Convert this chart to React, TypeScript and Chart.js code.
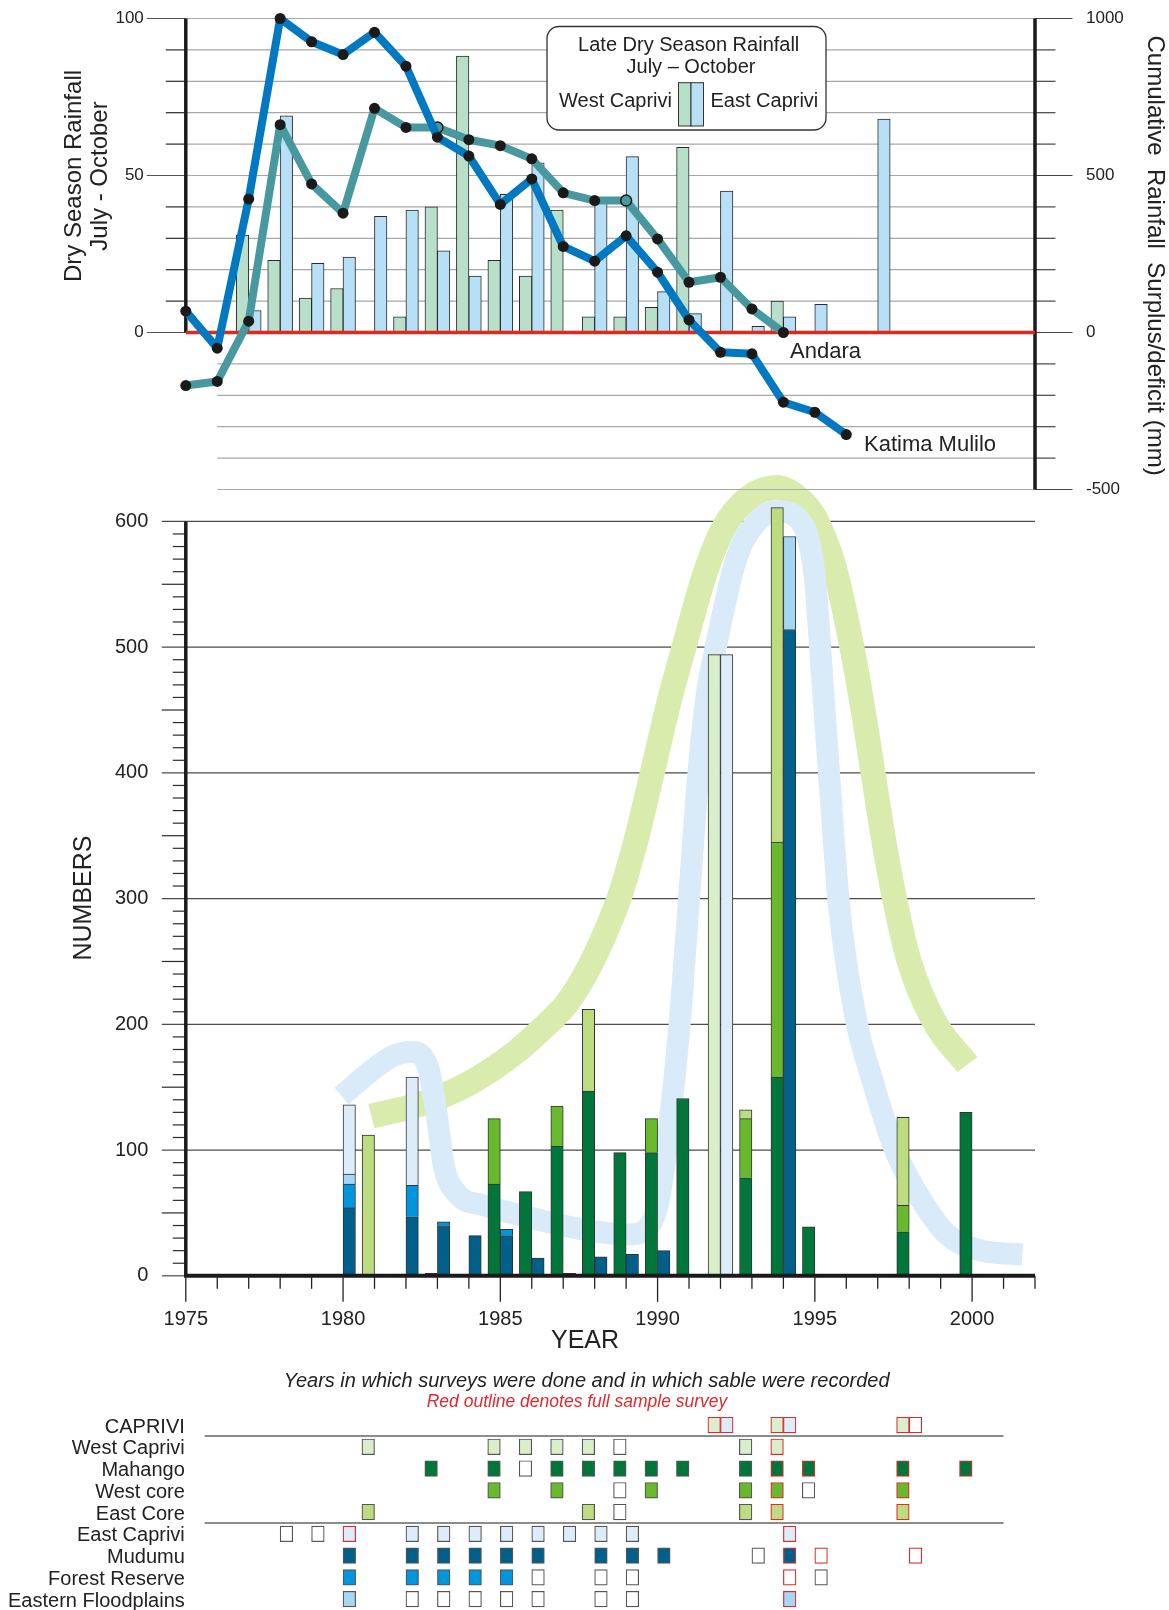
import React, { useEffect, useRef } from 'react';
import { Chart, registerables } from 'chart.js';

Chart.register(...registerables);

const FONT = "'Liberation Sans', Arial, Helvetica, sans-serif";
const INK = '#222222';
Chart.defaults.font.family = FONT;

// ================= Top panel data =================
const RAIN_YEARS = [1977, 1978, 1979, 1980, 1981, 1982, 1983, 1984, 1985, 1986, 1987, 1988, 1989, 1990, 1991, 1992, 1993, 1994, 1995, 1996, 1997];
const RAIN_WEST_CAPRIVI = [31, 23, 11, 14, null, 5, 40, 88, 23, 18, 39, 5, 5, 8, 59, null, 0.4, 10, null, null, null];
const RAIN_EAST_CAPRIVI = [7, 69, 22, 24, 37, 39, 26, 18, 44, 54, null, 42, 56, 13, 6, 45, 2, 5, 9, null, 68];

const KATIMA_YEARS = [1975, 1976, 1977, 1978, 1979, 1980, 1981, 1982, 1983, 1984, 1985, 1986, 1987, 1988, 1989, 1990, 1991, 1992, 1993, 1994, 1995, 1996];
const KATIMA_MULILO = [68, -50, 425, 1000, 926, 885, 956, 848, 622, 562, 408, 489, 274, 227, 308, 192, 40, -63, -68, -222, -254, -325];
const ANDARA_YEARS = [1975, 1976, 1977, 1978, 1979, 1980, 1981, 1982, 1983, 1984, 1985, 1986, 1987, 1988, 1989, 1990, 1991, 1992, 1993, 1994];
const ANDARA = [-169, -156, 36, 662, 473, 380, 714, 653, 653, 614, 595, 553, 445, 420, 420, 298, 160, 176, 75, 0];
const ANDARA_OPEN_POINTS = [1983, 1989];

const RAIN_TICKS = [0, 50, 100];
const SURPLUS_TICKS = [-500, 0, 500, 1000];

// ================= Bottom panel data =================
const SURVEY_YEARS = [1980, 1981, 1982, 1983, 1984, 1985, 1986, 1987, 1988, 1989, 1990, 1991, 1992, 1993, 1994, 1995, 1996, 1997, 1998, 1999, 2000];
// West Caprivi components (stacked bottom to top)
const MAHANGO = [null, null, null, 2, null, 73, 67, 103, 147, 98, 98, 141, null, 78, 158, 39, null, null, 35, null, 130];
const WEST_CORE = [null, null, null, null, null, 52, null, 32, null, null, 27, null, null, 47, 187, null, null, null, 21, null, null];
const EAST_CORE = [null, 112, null, null, null, null, null, null, 65, null, null, null, null, 7, 266, null, null, null, 70, null, null];
const WEST_CAPRIVI_OTHER = [null, null, null, null, null, null, null, null, null, null, null, null, 494, null, null, null, null, null, null, null, null];
// East Caprivi components (stacked bottom to top)
const MUDUMU = [54, null, 47, 40, 32, 32, 14, null, 15, 17, 20, null, null, null, 514, null, null, null, null, null, null];
const FOREST_RESERVE = [19, null, 25, 3, null, 5, null, null, null, null, null, null, null, null, null, null, null, null, null, null, null];
const EASTERN_FLOODPLAINS = [8, null, null, null, null, null, null, null, null, null, null, null, null, null, 74, null, null, null, null, null, null];
const EAST_CAPRIVI_OTHER = [55, null, 86, null, null, null, null, 2, null, null, null, null, 494, null, null, null, null, null, null, null, null];

// Hand-drawn trend bands (year, numbers)
const WEST_TREND_X = [1980.9, 1982.5, 1984.0, 1985.5, 1986.48, 1987.05, 1987.63, 1988.2, 1988.77, 1989.3, 1989.83, 1990.35, 1990.84, 1991.5, 1992.1, 1992.9, 1993.8, 1994.5, 1995.0, 1995.6, 1996.1, 1996.5, 1996.85, 1997.2, 1997.55, 1998.0, 1998.8, 1999.85];
const WEST_TREND_Y = [127, 137, 153, 178, 200, 214.5, 236.5, 265, 300, 345, 400, 455, 500, 558, 595, 619, 627, 618, 603, 565, 510, 455, 400, 345, 298, 250, 202, 168];
const EAST_TREND_X = [1979.95, 1980.9, 1981.6, 1982.2, 1982.7, 1982.98, 1983.2, 1983.6, 1984.5, 1986.0, 1987.6, 1989.1, 1989.75, 1990.05, 1990.35, 1990.7, 1991.0, 1991.3, 1991.55, 1991.85, 1992.5, 1993.1, 1993.8, 1994.6, 1995.0, 1995.25, 1995.45, 1995.75, 1996.3, 1996.8, 1997.55, 1998.2, 1999.2, 2000.3, 2001.6];
const EAST_TREND_Y = [143, 163, 175, 178, 166, 128, 88, 66, 56, 46, 37, 33, 40, 62, 115, 200, 300, 400, 460, 500, 570, 598, 608, 598, 555, 470, 400, 300, 205, 158, 100, 68, 33, 20, 17];

// ================= Survey grid data =================
const GRID_ROWS = ['CAPRIVI', 'West Caprivi', 'Mahango', 'West core', 'East Core', 'East Caprivi', 'Mudumu', 'Forest Reserve', 'Eastern Floodplains'];
const CAPRIVI_W_RECORDED = [1992, 1994, 1998];
const CAPRIVI_E_RECORDED = [1992, 1994];
const CAPRIVI_E_EMPTY = [1998];
const CAPRIVI_FULL = [1992, 1994, 1998];
const WEST_CAPRIVI_RECORDED = [1981, 1985, 1986, 1987, 1988, 1993, 1994];
const WEST_CAPRIVI_EMPTY = [1989];
const WEST_CAPRIVI_FULL = [1994];
const MAHANGO_RECORDED = [1983, 1985, 1987, 1988, 1989, 1990, 1991, 1993, 1994, 1995, 1998, 2000];
const MAHANGO_EMPTY = [1986];
const MAHANGO_FULL = [1994, 1995, 1998, 2000];
const WEST_CORE_RECORDED = [1985, 1987, 1990, 1993, 1994, 1998];
const WEST_CORE_EMPTY = [1989, 1995];
const WEST_CORE_FULL = [1994, 1998];
const EAST_CORE_RECORDED = [1981, 1988, 1993, 1994, 1998];
const EAST_CORE_EMPTY = [1989];
const EAST_CORE_FULL = [1994, 1998];
const EAST_CAPRIVI_RECORDED = [1980, 1982, 1983, 1984, 1985, 1986, 1987, 1988, 1989, 1994];
const EAST_CAPRIVI_EMPTY = [1978, 1979];
const EAST_CAPRIVI_FULL = [1980, 1994];
const MUDUMU_RECORDED = [1980, 1982, 1983, 1984, 1985, 1986, 1988, 1989, 1990, 1994];
const MUDUMU_EMPTY = [1993, 1995, 1998];
const MUDUMU_FULL = [1994, 1995, 1998];
const FOREST_RECORDED = [1980, 1982, 1983, 1984, 1985];
const FOREST_EMPTY = [1986, 1988, 1989, 1994, 1995];
const FOREST_FULL = [1994];
const FLOODPLAINS_RECORDED = [1980, 1994];
const FLOODPLAINS_EMPTY = [1982, 1983, 1984, 1985, 1986, 1988, 1989];
const FLOODPLAINS_FULL = [1994];

// ================= Styles =================
const COL = {
  mahango: '#00763a', westCore: '#69b92e', eastCore: '#bddc80', westOther: '#d9eecb',
  mudumu: '#00608a', forest: '#0096dd', flood: '#a5d6f4', eastOther: '#dcecf9',
  rainWest: '#b8dfc9', rainEast: '#b7dff5', katima: '#0079c2', andara: '#4898a0',
  trendWest: 'rgb(218,235,174)', trendEast: 'rgb(217,235,249)', red: '#e3272b',
};
const YEAR_MIN = 1975;
const YEAR_MAX = 2002;
const HALF_BAR = 0.197; // years
const BAR_PX = 12.4;
const CELL_W = 0.4;

function seg(ctx: CanvasRenderingContext2D, x1: number, y1: number, x2: number, y2: number) {
  ctx.beginPath(); ctx.moveTo(x1, y1); ctx.lineTo(x2, y2); ctx.stroke();
}
function textAt(ctx: CanvasRenderingContext2D, t: string, x: number, y: number, font: string, align: CanvasTextAlign, angle = 0, color = INK) {
  ctx.save();
  ctx.translate(x, y);
  if (angle) ctx.rotate(angle);
  ctx.font = font; ctx.fillStyle = color; ctx.textAlign = align; ctx.textBaseline = 'middle';
  ctx.fillText(t, 0, 0);
  ctx.restore();
}
const noPad = (s: any) => { s.paddingTop = 0; s.paddingBottom = 0; s.paddingLeft = 0; s.paddingRight = 0; };
const NO_GRID = { display: false, drawTicks: false, offset: false };

// ================= Top chart =================
const topDecor = {
  id: 'topDecor',
  beforeDatasetsDraw(chart: any) {
    const { ctx } = chart;
    const x = chart.scales.x, yL = chart.scales.yL, yR = chart.scales.yR;
    const xl = x.getPixelForValue(YEAR_MIN), xr = x.getPixelForValue(YEAR_MAX), x76 = x.getPixelForValue(1976);
    ctx.save();
    ctx.lineWidth = 1.2;
    for (let v = -50; v <= 100; v += 10) {
      const py = yL.getPixelForValue(v);
      if (v >= 0) {
        const major = v % 50 === 0;
        ctx.strokeStyle = major ? '#555' : '#2a2a2a';
        seg(ctx, xl - (major ? 39 : 20), py, xl, py);
      }
      if (v !== 0) {
        ctx.strokeStyle = '#a8a8a8';
        seg(ctx, v < 0 ? x76 : xl, py, xr, py);
      }
    }
    for (let v = -500; v <= 1000; v += 100) {
      const py = yR.getPixelForValue(v);
      ctx.strokeStyle = '#444';
      seg(ctx, xr, py, xr + (v % 500 === 0 ? 37.5 : 20.5), py);
    }
    ctx.strokeStyle = '#1a1a1a';
    ctx.lineWidth = 3.5;
    seg(ctx, xl, yL.getPixelForValue(100), xl, yL.getPixelForValue(0));
    seg(ctx, xr, yR.getPixelForValue(1000), xr, yR.getPixelForValue(-500));
    ctx.restore();
  },
  afterDraw(chart: any) {
    const { ctx } = chart;
    ctx.save();
    // legend box
    ctx.beginPath();
    (ctx as any).roundRect(547, 26.5, 279, 103.5, 12);
    ctx.fillStyle = '#fff'; ctx.fill();
    ctx.lineWidth = 1.3; ctx.strokeStyle = '#333'; ctx.stroke();
    const f20 = `20px ${FONT}`;
    textAt(ctx, 'Late Dry Season Rainfall', 688.7, 45, f20, 'center');
    textAt(ctx, 'July \u2013 October', 691, 67.7, f20, 'center');
    textAt(ctx, 'West Caprivi', 672, 101.7, f20, 'right');
    textAt(ctx, 'East Caprivi', 710.5, 101.7, f20, 'left');
    ctx.lineWidth = 1;
    ctx.fillStyle = COL.rainWest; ctx.fillRect(678.5, 82.7, 12.5, 43.3); ctx.strokeRect(678.5, 82.7, 12.5, 43.3);
    ctx.fillStyle = COL.rainEast; ctx.fillRect(691, 82.7, 12.5, 43.3); ctx.strokeRect(691, 82.7, 12.5, 43.3);
    // series labels
    const f22 = `22px ${FONT}`;
    textAt(ctx, 'Andara', 790, 352, f22, 'left');
    textAt(ctx, 'Katima Mulilo', 864, 444.5, f22, 'left');
    // axis titles
    const f24 = `24px ${FONT}`;
    textAt(ctx, 'Dry Season Rainfall', 74, 176, f24, 'center', -Math.PI / 2);
    textAt(ctx, 'July - October', 100, 176, f24, 'center', -Math.PI / 2);
    textAt(ctx, 'Cumulative  Rainfall  Surplus/deficit (mm)', 1154.6, 255.6, f24, 'center', Math.PI / 2);
    ctx.restore();
  },
};

function TopChart() {
  const ref = useRef<HTMLCanvasElement>(null);
  useEffect(() => {
    const west = RAIN_YEARS.map((yr, i) => (RAIN_WEST_CAPRIVI[i] == null ? null : { x: yr - HALF_BAR, y: RAIN_WEST_CAPRIVI[i] })).filter(Boolean);
    const east = RAIN_YEARS.map((yr, i) => (RAIN_EAST_CAPRIVI[i] == null ? null : { x: yr + HALF_BAR, y: RAIN_EAST_CAPRIVI[i] })).filter(Boolean);
    const chart = new Chart(ref.current as HTMLCanvasElement, {
      type: 'bar',
      data: {
        datasets: [
          {
            type: 'line', label: 'Katima Mulilo', yAxisID: 'yR',
            data: KATIMA_YEARS.map((yr, i) => ({ x: yr, y: KATIMA_MULILO[i] })),
            borderColor: COL.katima, borderWidth: 8, borderJoinStyle: 'round',
            pointRadius: 5.5, pointBackgroundColor: '#1a1a1a', pointBorderWidth: 0,
            clip: false, order: 0,
          } as any,
          {
            type: 'line', label: 'Andara', yAxisID: 'yR',
            data: ANDARA_YEARS.map((yr, i) => ({ x: yr, y: ANDARA[i] })),
            borderColor: COL.andara, borderWidth: 8, borderJoinStyle: 'round',
            pointRadius: 5.5,
            pointBackgroundColor: ANDARA_YEARS.map((yr) => (ANDARA_OPEN_POINTS.includes(yr) ? COL.andara : '#1a1a1a')),
            pointBorderColor: '#1a1a1a',
            pointBorderWidth: ANDARA_YEARS.map((yr) => (ANDARA_OPEN_POINTS.includes(yr) ? 1.5 : 0)),
            clip: false, order: 1,
          } as any,
          {
            type: 'line', label: 'zero', yAxisID: 'yL',
            data: [{ x: YEAR_MIN, y: 0 }, { x: YEAR_MAX, y: 0 }],
            borderColor: '#e0281e', borderWidth: 3.5, pointRadius: 0, order: 2,
          } as any,
          {
            type: 'bar', label: 'West Caprivi', yAxisID: 'yL', data: west,
            backgroundColor: COL.rainWest, borderColor: '#2a2a2a', borderWidth: 1,
            barThickness: 12.5, grouped: false, order: 3,
          } as any,
          {
            type: 'bar', label: 'East Caprivi', yAxisID: 'yL', data: east,
            backgroundColor: COL.rainEast, borderColor: '#2a2a2a', borderWidth: 1,
            barThickness: 12.5, grouped: false, order: 3,
          } as any,
        ],
      },
      options: {
        responsive: false, animation: false,
        layout: { padding: { top: 18.5, bottom: 10.5, left: 0, right: 0 } },
        plugins: { legend: { display: false }, tooltip: { enabled: false } },
        scales: {
          x: { type: 'linear', min: YEAR_MIN, max: YEAR_MAX, display: false, offset: false, grid: NO_GRID } as any,
          yL: {
            type: 'linear', position: 'left', min: -50, max: 100,
            afterFit: (s: any) => { s.width = 185.8; noPad(s); },
            afterBuildTicks: (s: any) => { s.ticks = RAIN_TICKS.map((v) => ({ value: v })); },
            grid: NO_GRID, border: { display: false },
            ticks: { padding: 42, color: INK, font: { size: 17 }, callback: (v: any) => String(v) },
          } as any,
          yR: {
            type: 'linear', position: 'right', min: -500, max: 1000,
            afterFit: (s: any) => { s.width = 134; noPad(s); },
            afterBuildTicks: (s: any) => { s.ticks = SURPLUS_TICKS.map((v) => ({ value: v })); },
            grid: NO_GRID, border: { display: false },
            ticks: { padding: 51, color: INK, font: { size: 17 }, callback: (v: any) => String(v) },
          } as any,
        },
      },
      plugins: [topDecor],
    });
    return () => chart.destroy();
  }, []);
  return <canvas ref={ref} width={1169} height={500} style={{ position: 'absolute', left: 0, top: 0, zIndex: 2 }} />;
}

// ================= Bottom chart =================
const bottomDecor = {
  id: 'bottomDecor',
  beforeDatasetsDraw(chart: any) {
    const { ctx } = chart;
    const x = chart.scales.x, y = chart.scales.y;
    const xl = x.getPixelForValue(YEAR_MIN), xr = x.getPixelForValue(YEAR_MAX);
    ctx.save();
    ctx.lineWidth = 1.2;
    for (let v = 0; v <= 600; v += 10) {
      const py = y.getPixelForValue(v);
      if (v % 100 === 0) {
        ctx.strokeStyle = '#4d4d4d';
        seg(ctx, xl - 24, py, v === 0 ? xl : xr, py);
      } else {
        ctx.strokeStyle = '#2a2a2a';
        seg(ctx, xl - (v % 50 === 0 ? 24 : 13), py, xl, py);
      }
    }
    ctx.restore();
  },
  afterDatasetsDraw(chart: any) {
    const { ctx } = chart;
    const x = chart.scales.x, y = chart.scales.y;
    const xl = x.getPixelForValue(YEAR_MIN), xr = x.getPixelForValue(YEAR_MAX);
    const y0 = y.getPixelForValue(0);
    ctx.save();
    ctx.strokeStyle = '#1a1a1a';
    ctx.lineWidth = 3.5;
    seg(ctx, xl, y.getPixelForValue(600), xl, y0);
    ctx.lineWidth = 4;
    seg(ctx, xl - 1.75, y0, xr, y0);
    ctx.lineWidth = 1.3;
    ctx.strokeStyle = '#222';
    for (let yr = YEAR_MIN; yr <= YEAR_MAX; yr++) {
      const px = x.getPixelForValue(yr);
      seg(ctx, px, y0, px, y0 + (yr % 5 === 0 ? 26 : 13));
    }
    ctx.restore();
  },
  afterDraw(chart: any) {
    const { ctx } = chart;
    textAt(ctx, 'NUMBERS', 84, 438, `25px ${FONT}`, 'center', -Math.PI / 2);
    textAt(ctx, 'YEAR', 585, 881, `25px ${FONT}`, 'center');
  },
};

function BottomChart() {
  const ref = useRef<HTMLCanvasElement>(null);
  useEffect(() => {
    const westSeries = [
      { label: 'Mahango', values: MAHANGO, color: COL.mahango },
      { label: 'West core', values: WEST_CORE, color: COL.westCore },
      { label: 'East Core', values: EAST_CORE, color: COL.eastCore },
      { label: 'West Caprivi', values: WEST_CAPRIVI_OTHER, color: COL.westOther },
    ];
    const eastSeries = [
      { label: 'Mudumu', values: MUDUMU, color: COL.mudumu },
      { label: 'Forest Reserve', values: FOREST_RESERVE, color: COL.forest },
      { label: 'Eastern Floodplains', values: EASTERN_FLOODPLAINS, color: COL.flood },
      { label: 'East Caprivi', values: EAST_CAPRIVI_OTHER, color: COL.eastOther },
    ];
    const mk = (s: any, side: number, stack: string) => ({
      type: 'bar', label: s.label, yAxisID: 'y', stack,
      data: SURVEY_YEARS.map((yr, i) => (s.values[i] == null ? null : { x: yr + side * HALF_BAR, y: s.values[i] })).filter(Boolean),
      backgroundColor: s.color, borderColor: '#333', borderWidth: 1,
      barThickness: BAR_PX, grouped: false, order: 0, clip: false,
    });
    const chart = new Chart(ref.current as HTMLCanvasElement, {
      type: 'bar',
      data: {
        datasets: [
          ...westSeries.map((s) => mk(s, -1, 'W')),
          ...eastSeries.map((s) => mk(s, 1, 'E')),
          {
            type: 'line', label: 'East trend', yAxisID: 'yc',
            data: EAST_TREND_X.map((v, i) => ({ x: v, y: EAST_TREND_Y[i] })),
            borderColor: COL.trendEast, borderWidth: 22, pointRadius: 0,
            cubicInterpolationMode: 'monotone', borderCapStyle: 'butt', borderJoinStyle: 'round',
            clip: false, order: 1,
          },
          {
            type: 'line', label: 'West trend', yAxisID: 'yc',
            data: WEST_TREND_X.map((v, i) => ({ x: v, y: WEST_TREND_Y[i] })),
            borderColor: COL.trendWest, borderWidth: 25, pointRadius: 0,
            cubicInterpolationMode: 'monotone', borderCapStyle: 'butt', borderJoinStyle: 'round',
            clip: false, order: 2,
          },
        ] as any,
      },
      options: {
        responsive: false, animation: false,
        layout: { padding: { top: 61.4, bottom: 0, left: 0, right: 134 } },
        plugins: { legend: { display: false }, tooltip: { enabled: false } },
        scales: {
          x: {
            type: 'linear', min: YEAR_MIN, max: YEAR_MAX, offset: false,
            afterFit: (s: any) => { s.height = 84.2; noPad(s); },
            afterBuildTicks: (s: any) => { s.ticks = [1975, 1980, 1985, 1990, 1995, 2000].map((v) => ({ value: v })); },
            grid: NO_GRID, border: { display: false },
            ticks: { padding: 31.2, autoSkip: false, maxRotation: 0, color: INK, font: { size: 20 }, callback: (v: any) => String(v) },
          } as any,
          y: {
            type: 'linear', position: 'left', min: 0, max: 600, stacked: true,
            afterFit: (s: any) => { s.width = 185.8; noPad(s); },
            afterBuildTicks: (s: any) => { s.ticks = [0, 100, 200, 300, 400, 500, 600].map((v) => ({ value: v })); },
            grid: NO_GRID, border: { display: false },
            ticks: { padding: 37.5, color: INK, font: { size: 20 }, callback: (v: any) => String(v) },
          } as any,
          yc: { type: 'linear', min: 0, max: 600, display: false, stacked: false } as any,
        },
      },
      plugins: [bottomDecor],
    });
    return () => chart.destroy();
  }, []);
  return <canvas ref={ref} width={1169} height={900} style={{ position: 'absolute', left: 0, top: 460, zIndex: 1 }} />;
}

// ================= Survey grid =================
const gridDecor = {
  id: 'gridDecor',
  beforeDatasetsDraw(chart: any) {
    const { ctx } = chart;
    const x = chart.scales.x, y = chart.scales.y;
    ctx.save();
    ctx.strokeStyle = '#8c8c8c';
    ctx.lineWidth = 2;
    for (const b of [0.5, 4.5]) {
      const py = y.getPixelForValue(b);
      seg(ctx, x.getPixelForValue(1975.6), py, x.getPixelForValue(2001), py);
    }
    ctx.restore();
  },
  afterDraw(chart: any) {
    const { ctx } = chart;
    textAt(ctx, 'Years in which surveys were done and in which sable were recorded', 586.6, 41.5, `italic 20px ${FONT}`, 'center');
    textAt(ctx, 'Red outline denotes full sample survey', 577, 62, `italic 17.5px ${FONT}`, 'center', 0, COL.red);
  },
};

function GridChart() {
  const ref = useRef<HTMLCanvasElement>(null);
  useEffect(() => {
    const rows = [
      { row: 0, side: -1, rec: CAPRIVI_W_RECORDED, empty: [] as number[], full: CAPRIVI_FULL, color: COL.westOther },
      { row: 0, side: 1, rec: CAPRIVI_E_RECORDED, empty: CAPRIVI_E_EMPTY, full: CAPRIVI_FULL, color: COL.eastOther },
      { row: 1, side: -1, rec: WEST_CAPRIVI_RECORDED, empty: WEST_CAPRIVI_EMPTY, full: WEST_CAPRIVI_FULL, color: COL.westOther },
      { row: 2, side: -1, rec: MAHANGO_RECORDED, empty: MAHANGO_EMPTY, full: MAHANGO_FULL, color: COL.mahango },
      { row: 3, side: -1, rec: WEST_CORE_RECORDED, empty: WEST_CORE_EMPTY, full: WEST_CORE_FULL, color: COL.westCore },
      { row: 4, side: -1, rec: EAST_CORE_RECORDED, empty: EAST_CORE_EMPTY, full: EAST_CORE_FULL, color: COL.eastCore },
      { row: 5, side: 1, rec: EAST_CAPRIVI_RECORDED, empty: EAST_CAPRIVI_EMPTY, full: EAST_CAPRIVI_FULL, color: COL.eastOther },
      { row: 6, side: 1, rec: MUDUMU_RECORDED, empty: MUDUMU_EMPTY, full: MUDUMU_FULL, color: COL.mudumu },
      { row: 7, side: 1, rec: FOREST_RECORDED, empty: FOREST_EMPTY, full: FOREST_FULL, color: COL.forest },
      { row: 8, side: 1, rec: FLOODPLAINS_RECORDED, empty: FLOODPLAINS_EMPTY, full: FLOODPLAINS_FULL, color: COL.flood },
    ];
    const cells: any[] = [];
    rows.forEach((r) => {
      const add = (yr: number, fill: string) => {
        const full = r.full.includes(yr);
        cells.push({
          y: r.row,
          x: r.side < 0 ? [yr - CELL_W, yr] : [yr, yr + CELL_W],
          fill, stroke: full ? COL.red : '#555', full,
        });
      };
      r.rec.forEach((yr) => add(yr, r.color));
      r.empty.forEach((yr) => add(yr, '#ffffff'));
    });
    cells.sort((a, b) => Number(a.full) - Number(b.full));
    const chart = new Chart(ref.current as HTMLCanvasElement, {
      type: 'bar',
      data: {
        datasets: [
          {
            label: 'surveys',
            data: cells.map((c) => ({ x: c.x, y: c.y })),
            backgroundColor: cells.map((c) => c.fill),
            borderColor: cells.map((c) => c.stroke),
            borderWidth: 1.2, borderSkipped: false,
            barThickness: 15.7, grouped: false,
          } as any,
        ],
      },
      options: {
        indexAxis: 'y',
        responsive: false, animation: false,
        layout: { padding: { top: 74.2, bottom: 0, left: 0, right: 134 } },
        plugins: { legend: { display: false }, tooltip: { enabled: false } },
        scales: {
          x: { type: 'linear', min: YEAR_MIN, max: YEAR_MAX, display: false, offset: false, grid: NO_GRID } as any,
          y: {
            type: 'linear', min: -0.5, max: 8.5, reverse: true, offset: false,
            afterFit: (s: any) => { s.width = 185.8; noPad(s); },
            afterBuildTicks: (s: any) => { s.ticks = GRID_ROWS.map((_, i) => ({ value: i })); },
            grid: NO_GRID, border: { display: false },
            ticks: { padding: 1, labelOffset: 2, autoSkip: false, color: INK, font: { size: 20 }, callback: (v: any) => GRID_ROWS[v] },
          } as any,
        },
      },
      plugins: [gridDecor],
    });
    return () => chart.destroy();
  }, []);
  return <canvas ref={ref} width={1169} height={270} style={{ position: 'absolute', left: 0, top: 1340, zIndex: 1 }} />;
}

export default function App() {
  useEffect(() => {
    document.documentElement.style.overflow = 'hidden';
    document.body.style.overflow = 'hidden';
  }, []);
  return (
    <div style={{ position: 'absolute', left: 0, top: 0, width: 1169, height: 1610, overflow: 'hidden', background: '#fff' }}>
      <BottomChart />
      <GridChart />
      <TopChart />
    </div>
  );
}
